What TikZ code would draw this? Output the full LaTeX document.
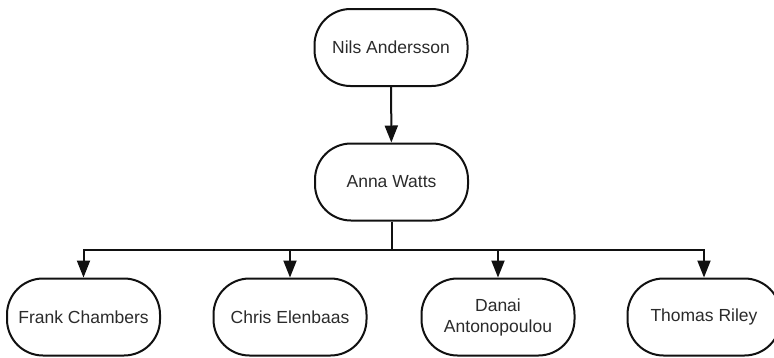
\documentclass[tikz,border=0pt]{standalone}
\usepackage{fontspec}
\setmainfont{Liberation Sans}
\usetikzlibrary{arrows.meta}
\definecolor{inkline}{HTML}{111111}
\definecolor{inktext}{HTML}{2B2B2B}
\tikzset{
  x=1pt, y=1pt,
  person/.style={draw=inkline, line width=2pt, fill=white, rounded corners=36pt,
    minimum width=153pt, minimum height=77pt, inner sep=0pt, align=center,
    text=inktext, font=\fontsize{17.5}{21}\selectfont},
  link/.style={draw=inkline, line width=2pt,
    -{Triangle[width=13pt,length=17pt]}},
  plain/.style={draw=inkline, line width=2pt},
}
\begin{document}
\begin{tikzpicture}
  \clip (0,0) rectangle (774,-357);
  \fill[white] (0,0) rectangle (774,-357);

  \node[person] (nils)   at (391,-47.5) {Nils Andersson};
  \node[person] (anna)   at (391.5,-182) {Anna Watts};
  \node[person] (frank)  at (83.5,-317) {Frank Chambers};
  \node[person] (chris)  at (290,-317) {Chris Elenbaas};
  \node[person] (danai)  at (498,-317) {Danai\\Antonopoulou};
  \node[person] (thomas) at (704,-317) {Thomas Riley};

  \coordinate (bus) at (391.5,-250);

  \draw[link] (nils) -- (anna);
  \draw[plain] (anna) -- (bus);
  \draw[link] (bus) -| (frank);
  \draw[link] (bus) -| (chris);
  \draw[link] (bus) -| (danai);
  \draw[link] (bus) -| (thomas);
\end{tikzpicture}
\end{document}
